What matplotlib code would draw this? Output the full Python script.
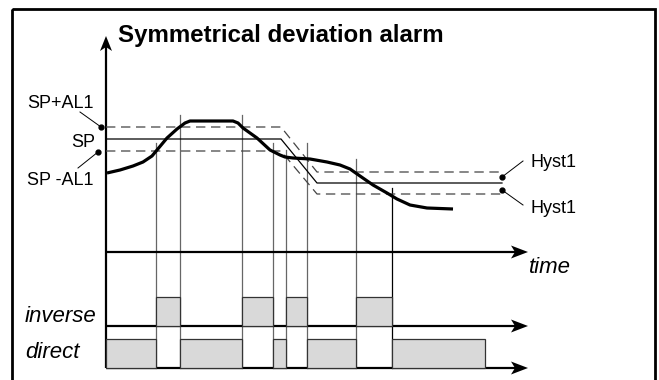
import matplotlib.pyplot as plt
from matplotlib.patches import Polygon, Rectangle

plt.rcParams['font.family'] = ['Liberation Sans', 'DejaVu Sans']

# process value over time (diagram units, y grows downwards)
curve_t = [107, 120, 133, 143, 152, 157, 167, 177, 185, 190, 233, 238, 243,
           257, 270, 280, 285, 293, 310, 327, 340, 350, 360, 373, 387, 397,
           410, 427, 453]
curve_v = [173, 170, 166, 162, 156, 150, 138, 129, 123, 121, 121, 123, 128,
           138, 150, 155, 157, 158, 159, 162, 165, 169, 176, 185, 193, 199,
           205, 208, 209]

# set point: high level, ramp, low level
sp_t = [106, 281, 317, 502]
sp_v = [139, 139, 183, 183]
band_hi = [12, 12, 11, 11]   # AL1 before ramp, Hyst1 after

# alarm switching instants and where their markers start
switch_t = [156, 180, 242, 273, 286, 307, 356, 392]
switch_top = [143, 115, 115, 143, 150, 143, 159, 188]

inverse_on = [(156, 180), (242, 273), (286, 307), (356, 392)]
direct_on = [(106, 156), (180, 242), (273, 286), (307, 356), (392, 485)]

t0, t_end = 106, 528
time_y, inv_y, dir_y = 252, 326, 368
bar_h = 29

fig = plt.figure(figsize=(6.59, 3.80), dpi=100)
ax = fig.add_axes([0, 0, 1, 1])
ax.set_xlim(0, 659)
ax.set_ylim(380, 0)
ax.axis('off')

# frame
ax.add_patch(Rectangle((12, 9), 643, 390, fill=False, lw=2.0, ec='black'))

def arrow_right(y):
    ax.plot([t0, t_end - 12], [y, y], color='black', lw=1.6, solid_capstyle='butt')
    ax.add_patch(Polygon([[t_end, y], [t_end - 17, y - 6.5], [t_end - 13, y],
                          [t_end - 17, y + 6.5]], closed=True, fc='black', ec='none'))

# axes
ax.plot([t0, t0], [dir_y, 45], color='black', lw=1.6, solid_capstyle='butt')
ax.add_patch(Polygon([[t0, 36], [t0 - 6, 51], [t0, 47], [t0 + 6, 51]],
                     closed=True, fc='black', ec='none'))
for y in (time_y, inv_y, dir_y):
    arrow_right(y)

# switching markers
for i, (t, top) in enumerate(zip(switch_t, switch_top)):
    col = 'black' if i == len(switch_t) - 1 else '#666666'
    ax.plot([t, t], [top, dir_y], color=col, lw=0.9, zorder=1)

# output bars
for a, b in inverse_on:
    ax.add_patch(Rectangle((a, inv_y - bar_h), b - a, bar_h, fc='#d9d9d9',
                           ec='#333333', lw=0.9, zorder=2))
for a, b in direct_on:
    ax.add_patch(Rectangle((a, dir_y - bar_h), b - a, bar_h, fc='#d9d9d9',
                           ec='#333333', lw=0.9, zorder=2))

# set point and alarm band
ax.plot(sp_t, sp_v, color='black', lw=0.9)
up = [v - d for v, d in zip(sp_v, band_hi)]
lo = [v + d for v, d in zip(sp_v, band_hi)]
for band in (up, lo):
    ax.plot(sp_t, band, color='#444444', lw=0.9, linestyle=(0, (7.5, 4.5)))

# process value
ax.plot(curve_t, curve_v, color='black', lw=2.3, solid_joinstyle='round',
        solid_capstyle='butt', zorder=3)

# labels with leaders
fs = 13
ax.text(27, 108, 'SP+AL1', fontsize=fs, ha='left', va='baseline')
ax.text(95, 147, 'SP', fontsize=fs, ha='right', va='baseline')
ax.text(27, 185, 'SP -AL1', fontsize=fs, ha='left', va='baseline')
ax.plot([80, 101], [112, 127], color='black', lw=0.7)
ax.plot([98, 78], [152, 168], color='black', lw=0.7)
ax.plot([101, 98], [127, 152], 'o', color='black', ms=3.5)

ax.text(530, 167, 'Hyst1', fontsize=fs, ha='left', va='baseline')
ax.text(530, 213, 'Hyst1', fontsize=fs, ha='left', va='baseline')
ax.plot([502, 523], [177, 161], color='black', lw=0.7)
ax.plot([502, 523], [190, 205], color='black', lw=0.7)
ax.plot([502, 502], [177, 190], 'o', color='black', ms=3.5)

ax.text(529, 273, 'time', fontsize=16, style='italic', ha='left', va='baseline')
ax.text(25, 322, 'inverse', fontsize=16, style='italic', ha='left', va='baseline')
ax.text(25, 358, 'direct', fontsize=16, style='italic', ha='left', va='baseline')

ax.text(118, 42, 'Symmetrical deviation alarm', fontsize=17.3, fontweight='bold',
        ha='left', va='baseline')

fig.savefig('out.png', dpi=100)
